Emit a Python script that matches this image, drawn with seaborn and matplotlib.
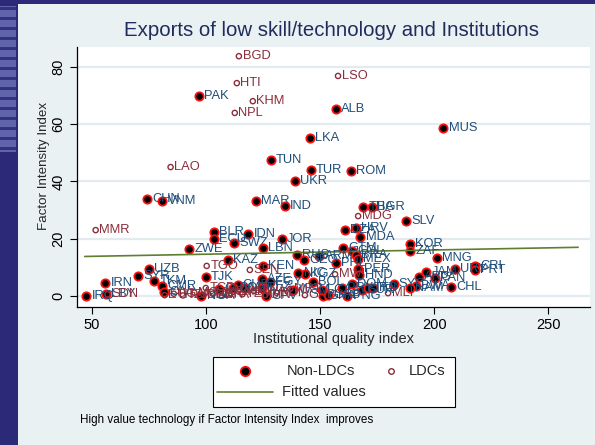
import matplotlib
matplotlib.use("Agg")
import matplotlib.pyplot as plt
from matplotlib.patches import Rectangle
from matplotlib.lines import Line2D
import pandas as pd
import seaborn as sns

# ---- data -------------------------------------------------------------
# Non-LDC countries: institutional quality index vs factor intensity index
non_ldc_codes = [
    "PAK", "ALB", "MUS", "LKA", "TUN", "TUR", "ROM", "UKR", "CHN", "VNM",
    "MAR", "IND", "THA", "BGR", "SLV", "HRV", "DZA", "MDA", "IDN", "BLR",
    "ECU", "SWZ", "ZWE", "LBN", "JOR", "GTM", "COL", "BRA", "MEX", "KOR",
    "ZAF", "MNG", "CRI", "PRT", "URY", "JAM", "ARG", "PAN", "BWA", "CHL",
    "NAM", "UZB", "SYR", "IRN", "IRQ", "LBY", "TKM", "CMR", "CIV", "TJK",
    "KAZ", "KEN", "AZE", "EGY", "RUS", "GEO", "ARM", "PHL", "PER", "HND",
    "KGZ", "NIC", "BOL", "GHA", "GAB", "PNG", "PRY", "DOM", "SUR", "TTO",
    "FJI", "SYC", "CUB", "COG", "GUY", "NGA", "CPV", "BLZ", "VUT", "WSM",
    "LCA",
]
non_ldc_iq = [
    96.9, 157.0, 204.0, 145.6, 128.5, 146.0, 163.6, 139.0, 74.4, 81.0,
    121.9, 134.6, 168.9, 172.7, 187.6, 165.8, 161.0, 167.7, 118.6, 103.6,
    103.6, 112.4, 92.7, 124.9, 133.3, 160.2, 163.9, 165.8, 166.5, 189.5,
    189.5, 201.2, 217.7, 217.7, 209.0, 196.5, 193.4, 200.4, 192.0, 207.5,
    189.5, 75.1, 70.3, 56.0, 47.7, 56.4, 77.3, 81.0, 81.6, 99.9,
    109.8, 124.9, 124.4, 128.0, 139.8, 143.0, 149.7, 157.0, 166.8, 167.2,
    143.4, 140.5, 147.0, 151.2, 153.6, 162.0, 159.5, 163.9, 168.3, 171.0,
    173.4, 182.2, 113.9, 111.8, 105.8, 98.1, 126.3, 124.4, 117.1, 138.3,
    150.7,
]
non_ldc_fii = [
    69.8, 65.2, 58.6, 55.1, 47.5, 44.0, 43.6, 40.1, 33.8, 33.3,
    33.1, 31.4, 30.9, 30.9, 26.3, 23.8, 23.0, 20.5, 21.7, 22.3,
    19.8, 18.6, 16.5, 16.6, 20.0, 16.9, 15.8, 14.3, 12.8, 18.0,
    15.8, 13.1, 10.5, 9.1, 9.3, 8.5, 6.7, 6.2, 3.5, 3.0,
    2.7, 9.3, 7.1, 4.6, 0.0, 0.7, 5.3, 3.5, 1.5, 6.5,
    12.6, 10.5, 5.8, 5.0, 14.3, 12.6, 14.0, 11.6, 9.3, 7.3,
    7.7, 7.9, 5.0, 0.1, 0.3, 0.0, 2.7, 4.1, 2.1, 2.7,
    2.7, 4.1, 3.8, 2.7, 2.3, 0.0, 0.1, 2.7, 2.7, 2.1,
    2.1,
]

# Least developed countries
ldc_codes = [
    "BGD", "HTI", "LSO", "KHM", "NPL", "LAO", "MMR", "MDG", "TGO", "SEN",
    "MWI", "MLI", "SDN", "ETH", "UGA", "TZA", "MOZ", "BEN", "NER", "BFA",
    "ZMB", "YEM", "RWA", "GIN", "BDI", "MRT", "TCD", "GNB",
]
ldc_iq = [
    114.5, 113.6, 157.9, 120.6, 112.7, 84.6, 51.8, 166.7, 100.4, 119.3,
    156.6, 179.8, 57.0, 82.0, 86.0, 90.0, 95.0, 99.0, 103.0, 107.0,
    112.0, 116.0, 121.0, 126.0, 131.0, 137.0, 100.0, 143.4,
]
ldc_fii = [
    83.7, 74.3, 76.8, 68.0, 63.9, 45.0, 23.0, 27.9, 10.5, 9.1,
    7.6, 1.0, 0.6, 0.3, 0.8, 0.2, 1.2, 0.4, 0.8, 0.2,
    1.5, 0.6, 1.8, 0.3, 1.1, 2.5, 2.8, 0.3,
]

# Linear fit of the factor intensity index on institutional quality
fit_iq = [47.0, 263.0]
fit_fii = [13.8, 17.0]

x_ticks = [50, 100, 150, 200, 250]
y_ticks = [0, 20, 40, 60, 80]

# ---- style ------------------------------------------------------------
sns.set_style("white")
plt.rcParams["font.family"] = ["Liberation Sans", "DejaVu Sans"]

BG = "#e9f1f3"
NAVY = "#2c2a78"
BLUE_LAB = "#1f4e79"
MAROON = "#8c2d3a"
FIT = "#5d7f2e"
RED = "#ff1010"

non_ldc = pd.DataFrame({"code": non_ldc_codes, "iq": non_ldc_iq, "fii": non_ldc_fii})
ldc = pd.DataFrame({"code": ldc_codes, "iq": ldc_iq, "fii": ldc_fii})
fit = pd.DataFrame({"iq": fit_iq, "fii": fit_fii})

W, H = 595.0, 445.0
fig = plt.figure(figsize=(W / 100, H / 100), dpi=100, facecolor=BG)


def fx(px):
    return px / W


def fy(py):
    return 1 - py / H


# slide frame: dark band on the left and along the top
fig.patches.append(Rectangle((0, 0), fx(18), 1, transform=fig.transFigure,
                             facecolor=NAVY, edgecolor="none", zorder=0))
fig.patches.append(Rectangle((0, fy(4)), 1, 4 / H, transform=fig.transFigure,
                             facecolor=NAVY, edgecolor="none", zorder=0))
fig.patches.append(Rectangle((0, fy(152)), fx(16), 146 / H, transform=fig.transFigure,
                             facecolor="#6064aa", edgecolor="none", zorder=0))
for yy in range(10, 152, 10):
    fig.patches.append(Rectangle((0, fy(yy)), fx(16), 3 / H, transform=fig.transFigure,
                                 facecolor="#34317f", edgecolor="none", zorder=0))

ax = fig.add_axes([fx(76.7), fy(306.7), (590 - 76.7) / W, (306.7 - 47) / H])
ax.set_facecolor("white")

for v in y_ticks:
    ax.axhline(v, color="#e3ebee", lw=1.6, zorder=0)

sns.scatterplot(data=non_ldc, x="iq", y="fii", ax=ax, marker="o", s=36,
                color="black", edgecolor=RED, linewidth=1.3, zorder=3,
                legend=False)
sns.scatterplot(data=ldc, x="iq", y="fii", ax=ax, marker="o", s=14,
                facecolor="none", edgecolor=MAROON, linewidth=1.0, zorder=3,
                legend=False)
sns.lineplot(data=fit, x="iq", y="fii", ax=ax, color=FIT, lw=1.2, zorder=4)

for c, x, y in zip(non_ldc_codes, non_ldc_iq, non_ldc_fii):
    ax.annotate(c, (x, y), xytext=(3.8, 0), textcoords="offset points",
                ha="left", va="center", fontsize=9.3, color=BLUE_LAB, zorder=5)
for c, x, y in zip(ldc_codes, ldc_iq, ldc_fii):
    ax.annotate(c, (x, y), xytext=(2.6, 0), textcoords="offset points",
                ha="left", va="center", fontsize=9.3, color=MAROON, zorder=5)

ax.set_xlim(43.5, 268.2)
ax.set_ylim(-3.73, 86.9)
ax.set_xticks(x_ticks)
ax.set_yticks(y_ticks)
ax.tick_params(axis="both", direction="out", length=5, width=0.8, color="black",
               labelsize=10.5, labelcolor="black", pad=3, bottom=True, left=True)
for lab in ax.get_yticklabels():
    lab.set_rotation(90)
    lab.set_va("center")
for side in ("top", "right"):
    ax.spines[side].set_visible(False)
for side in ("left", "bottom"):
    ax.spines[side].set_color("black")
    ax.spines[side].set_linewidth(0.9)

ax.set_xlabel("Institutional quality index", fontsize=10.5, labelpad=0)
ax.set_ylabel("Factor Intensity Index", fontsize=9.6, va="center")
ax.yaxis.set_label_coords((44 - 76.7) / 513.3, 1 - (166 - 47) / 259.7)

fig.text(fx(332), fy(30), "Exports of low skill/technology and Institutions",
         ha="center", va="center", fontsize=14.7, color="#1f2d5c")

# legend box, laid out by hand
fig.patches.append(Rectangle((fx(212.5), fy(407)), (454.5 - 212.5) / W, 50 / H,
                             transform=fig.transFigure, facecolor="white",
                             edgecolor="black", lw=0.8, zorder=5))
fig.add_artist(Line2D([fx(245)], [fy(371)], ls="none", marker="o", markersize=6.8,
                      markerfacecolor="black", markeredgecolor=RED,
                      markeredgewidth=1.3, transform=fig.transFigure, zorder=6))
fig.add_artist(Line2D([fx(391)], [fy(371)], ls="none", marker="o", markersize=4,
                      markerfacecolor="none", markeredgecolor=MAROON,
                      markeredgewidth=1.0, transform=fig.transFigure, zorder=6))
fig.add_artist(Line2D([fx(217), fx(272.5)], [fy(392), fy(392)], color=FIT, lw=1.2,
                      transform=fig.transFigure, zorder=6))
fig.text(fx(286.5), fy(371), "Non-LDCs", ha="left", va="center", fontsize=10.5, zorder=6)
fig.text(fx(408.7), fy(371), "LDCs", ha="left", va="center", fontsize=10.5, zorder=6)
fig.text(fx(281.6), fy(392), "Fitted values", ha="left", va="center", fontsize=10.5, zorder=6)

fig.text(fx(80), fy(420), "High value technology if Factor Intensity Index  improves",
         ha="left", va="center", fontsize=8.4, color="black")

fig.savefig("out.png", dpi=100, facecolor=BG)
